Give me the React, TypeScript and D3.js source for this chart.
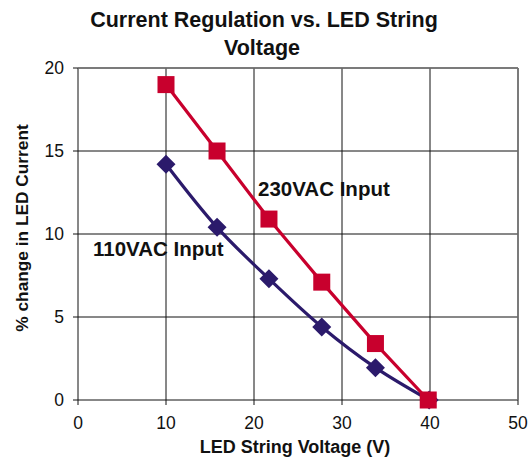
import React from 'react';
import * as d3 from 'd3';

const volts230 = [10, 15.8, 21.7, 27.7, 33.8, 39.8];
const pct230 = [19, 15, 10.9, 7.1, 3.4, 0];
const volts110 = [10, 15.8, 21.7, 27.7, 33.8, 39.9];
const pct110 = [14.2, 10.4, 7.3, 4.4, 1.95, 0];
const xTicks = [0, 10, 20, 30, 40, 50];
const yTicks = [0, 5, 10, 15, 20];

const RED = '#C8002D';
const NAVY = '#2B1A6B';
const FONT = 'Liberation Sans, Arial, sans-serif';

export default function App() {
  const width = 531;
  const height = 458;
  const margin = { top: 68, right: 13, bottom: 58, left: 78 };

  const x = d3.scaleLinear().domain([0, 50]).range([margin.left, width - margin.right]);
  const y = d3.scaleLinear().domain([0, 20]).range([height - margin.bottom, margin.top]);

  const s230 = volts230.map((v, i) => [v, pct230[i]] as [number, number]);
  const s110 = volts110.map((v, i) => [v, pct110[i]] as [number, number]);

  const line230 = d3.line<[number, number]>().x(d => x(d[0])).y(d => y(d[1]));
  const line110 = d3.line<[number, number]>().x(d => x(d[0])).y(d => y(d[1])).curve(d3.curveCatmullRom);

  const sq = 17;
  const dm = 9.5;

  return (
    <svg width={width} height={height} style={{ position: 'absolute', left: 0, top: 0, background: '#fff' }}>
      <text x={264} y={27} textAnchor="middle" fontFamily={FONT} fontWeight="bold" fontSize={21.5} fill="#111">
        Current Regulation vs. LED String
      </text>
      <text x={262} y={55} textAnchor="middle" fontFamily={FONT} fontWeight="bold" fontSize={21.5} fill="#111">
        Voltage
      </text>

      {/* grid */}
      {xTicks.map(t => (
        <line key={'gx' + t} x1={x(t)} x2={x(t)} y1={y(20)} y2={y(0) + 5} stroke="#111" strokeWidth={1} />
      ))}
      {yTicks.map(t => (
        <line key={'gy' + t} x1={x(0) - 5} x2={x(50)} y1={y(t)} y2={y(t)} stroke="#111" strokeWidth={1} />
      ))}
      <line x1={x(50)} x2={x(50)} y1={y(20)} y2={y(0)} stroke="#777" strokeWidth={1.5} />
      <line x1={x(0)} x2={x(50)} y1={y(20)} y2={y(20)} stroke="#777" strokeWidth={1.5} />

      {xTicks.map(t => (
        <text key={'xl' + t} x={x(t)} y={y(0) + 29} textAnchor="middle" fontFamily={FONT} fontSize={17.5} fill="#111">
          {t}
        </text>
      ))}
      {yTicks.map(t => (
        <text key={'yl' + t} x={x(0) - 14} y={y(t) + 6} textAnchor="end" fontFamily={FONT} fontSize={17.5} fill="#111">
          {t}
        </text>
      ))}

      <text x={295} y={453} textAnchor="middle" fontFamily={FONT} fontWeight="bold" fontSize={18} fill="#111">
        LED String Voltage (V)
      </text>
      <text transform={`translate(28,228) rotate(-90)`} textAnchor="middle" fontFamily={FONT} fontWeight="bold" fontSize={17.3} fill="#111">
        % change in LED Current
      </text>

      {/* series */}
      <path d={line110(s110) || ''} fill="none" stroke={NAVY} strokeWidth={3.2} />
      {s110.map((d, i) => (
        <path key={'d' + i} d={`M${x(d[0])},${y(d[1]) - dm}L${x(d[0]) + dm},${y(d[1])}L${x(d[0])},${y(d[1]) + dm}L${x(d[0]) - dm},${y(d[1])}Z`} fill={NAVY} />
      ))}
      <path d={line230(s230) || ''} fill="none" stroke={RED} strokeWidth={3.2} />
      {s230.map((d, i) => (
        <rect key={'s' + i} x={x(d[0]) - sq / 2} y={y(d[1]) - sq / 2} width={sq} height={sq} fill={RED} />
      ))}

      <text x={258} y={196} fontFamily={FONT} fontWeight="bold" fontSize={20.5} fill="#111">230VAC Input</text>
      <text x={93} y={256} fontFamily={FONT} fontWeight="bold" fontSize={20.5} fill="#111">110VAC Input</text>
    </svg>
  );
}
